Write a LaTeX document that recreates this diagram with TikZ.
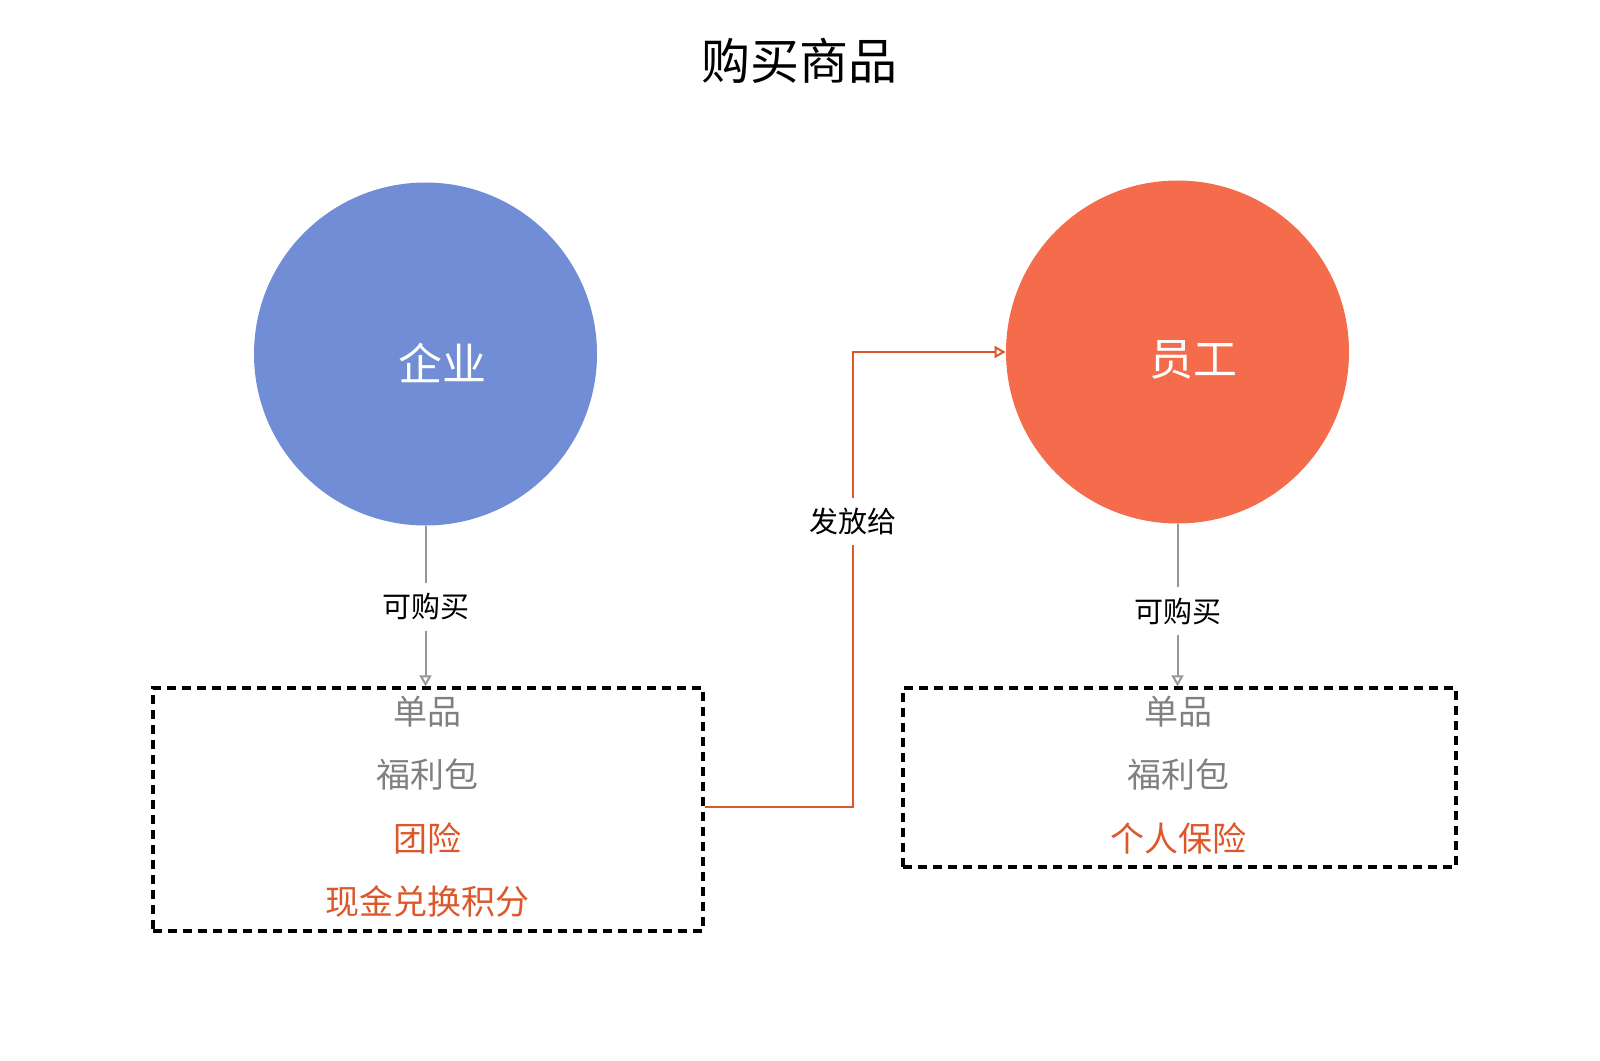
\documentclass[tikz,border=0pt]{standalone}
\usepackage{fontspec}
\setmainfont{Noto Sans CJK SC}
\usetikzlibrary{arrows.meta,positioning}
\definecolor{qiyeblue}{RGB}{112,141,213}
\definecolor{staffred}{RGB}{244,108,76}
\definecolor{accent}{RGB}{220,88,42}
\definecolor{itemgray}{RGB}{128,128,128}
\definecolor{linegray}{RGB}{150,150,150}
\tikzset{
	role/.style={circle,minimum size=171.5pt,inner sep=0pt},
	roletext/.style={text=white,font=\fontsize{22}{26}\selectfont},
	goodsbox/.style={draw=black,line width=1.7pt,dash pattern=on 4.5pt off 3pt,inner sep=0pt},
	item/.style={font=\fontsize{17}{20}\selectfont},
	tag/.style={font=\fontsize{14.5}{17}\selectfont,fill=white,inner xsep=2pt,inner ysep=5pt},
	buyline/.style={draw=linegray,line width=1pt},
	giveline/.style={draw=accent,line width=1pt},
	opentip/.style={-{Triangle[open,length=5.5pt,width=6pt]}}
}
\begin{document}
\begin{tikzpicture}[x=0.5pt,y=-0.5pt]
	\useasboundingbox (0,0) rectangle (1600,1060);
	% Title
	\node[font=\fontsize{24.5}{28}\selectfont] (title) at (799,61) {购买商品};
	% The two parties
	\node[role,fill=qiyeblue] (qiye) at (425.5,354) {};
	\node[roletext] (qiyeT) at ([shift={(16.5,9)}]qiye.center) {企业};
	\node[role,fill=staffred] (yuangong) at (1177.5,352) {};
	\node[roletext] (yuangongT) at ([shift={(15.5,8)}]yuangong.center) {员工};
	% Dashed boxes
	\node[goodsbox,minimum width=275pt,minimum height=121.5pt] (boxL) at (428,809.5) {};
	\node[goodsbox,minimum width=276.5pt,minimum height=89.5pt] (boxR) at (1179.5,777.5) {};
	% Items
	\foreach \txt/\col [count=\i] in {单品/itemgray,福利包/itemgray,团险/accent,现金兑换积分/accent}
		\node[item,text=\col] (itemL\i) at (427.5,{712+63*(\i-1)}) {\txt};
	\foreach \txt/\col [count=\i] in {单品/itemgray,福利包/itemgray,个人保险/accent}
		\node[item,text=\col] (itemR\i) at (1178.5,{712+63*(\i-1)}) {\txt};
	% Buy arrows
	\node[tag] (buyL) at (425.5,607) {可购买};
	\node[tag] (buyR) at (1177.5,611) {可购买};
	\draw[buyline] (qiye.south) -- (buyL);
	\draw[buyline,opentip] (buyL) -- (buyL |- boxL.north);
	\draw[buyline] (yuangong.south) -- (buyR);
	\draw[buyline,opentip] (buyR) -- (buyR |- boxR.north);
	% Hand out to staff
	\node[tag] (give) at (853,521.5) {发放给};
	\draw[giveline] ([yshift=1.2pt]boxL.east) -| (give);
	\draw[giveline,opentip] (give) |- (yuangong.west);
\end{tikzpicture}
\end{document}
